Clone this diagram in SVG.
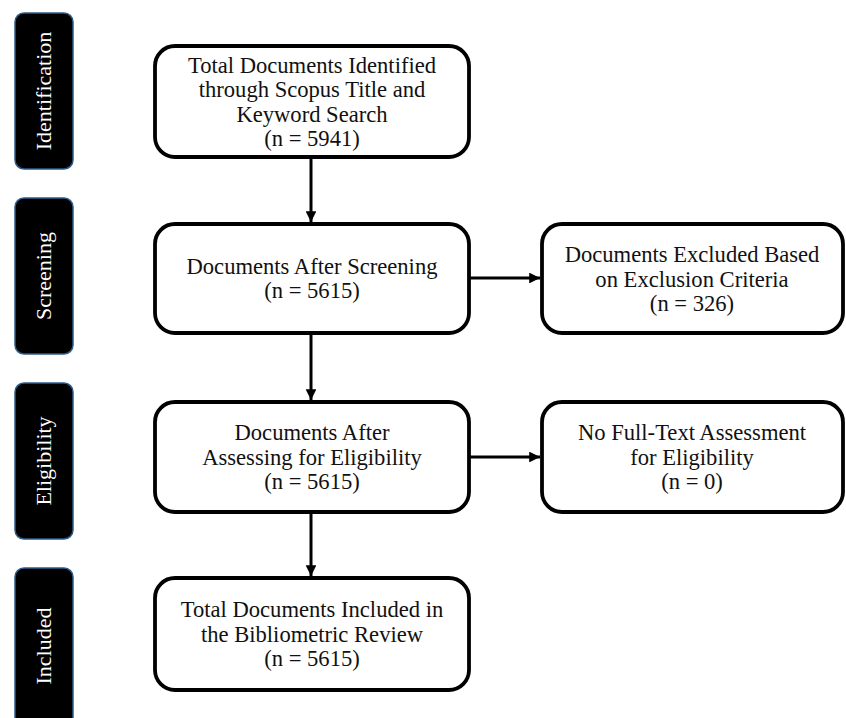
<svg xmlns="http://www.w3.org/2000/svg" width="846" height="718" viewBox="0 0 846 718">
<defs>
<marker id="ah" viewBox="0 0 10 10" refX="10" refY="5" markerWidth="3.6" markerHeight="3.6" orient="auto" markerUnits="strokeWidth">
<path d="M0,0 L10,5 L0,10 z" fill="#000"/>
</marker>
<style>
.stage rect{fill:#000;stroke:#2e5c8a;stroke-width:1.5}
.stage text{fill:#fff;font-family:"Liberation Serif","DejaVu Serif",serif;font-size:22px;text-anchor:middle}
.box rect{fill:#fff;stroke:#000;stroke-width:3.8}
.box text{fill:#111;font-family:"Liberation Serif","DejaVu Serif",serif;font-size:22.6px;text-anchor:middle}
.conn line{stroke:#000;stroke-width:3;marker-end:url(#ah)}
</style>
</defs>
<rect width="846" height="718" fill="#fff"/>
<g id="stage-identification" class="stage"><rect x="15" y="13" width="58" height="156" rx="9"/><text transform="translate(51,91) rotate(-90)">Identification</text></g>
<g id="stage-screening" class="stage"><rect x="15" y="198" width="58" height="156" rx="9"/><text transform="translate(51,276) rotate(-90)">Screening</text></g>
<g id="stage-eligibility" class="stage"><rect x="15" y="383" width="58" height="156" rx="9"/><text transform="translate(51,461) rotate(-90)">Eligibility</text></g>
<g id="stage-included" class="stage"><rect x="15" y="568" width="58" height="160" rx="9"/><text transform="translate(51,646) rotate(-90)">Included</text></g>
<g id="box-identified" class="box"><rect x="155" y="46" width="314" height="111" rx="20"/>
<text x="312" y="73">Total Documents Identified</text><text x="312" y="97">through Scopus Title and</text><text x="312" y="122">Keyword Search</text><text x="312" y="146">(n = 5941)</text></g>
<g id="box-screened" class="box"><rect x="155" y="224" width="314" height="109" rx="20"/>
<text x="312" y="274">Documents After Screening</text><text x="312" y="298">(n = 5615)</text></g>
<g id="box-excluded" class="box"><rect x="542" y="224" width="301" height="109" rx="20"/>
<text x="692" y="262">Documents Excluded Based</text><text x="692" y="287">on Exclusion Criteria</text><text x="692" y="311">(n = 326)</text></g>
<g id="box-eligible" class="box"><rect x="155" y="402" width="314" height="110" rx="20"/>
<text x="312" y="440">Documents After</text><text x="312" y="465">Assessing for Eligibility</text><text x="312" y="489">(n = 5615)</text></g>
<g id="box-nofulltext" class="box"><rect x="542" y="402" width="301" height="110" rx="20"/>
<text x="692" y="440">No Full-Text Assessment</text><text x="692" y="465">for Eligibility</text><text x="692" y="489">(n = 0)</text></g>
<g id="box-included" class="box"><rect x="155" y="578" width="314" height="112" rx="20"/>
<text x="312" y="617">Total Documents Included in</text><text x="312" y="642">the Bibliometric Review</text><text x="312" y="666">(n = 5615)</text></g>
<g id="connectors" class="conn">
<line x1="311" y1="158" x2="311" y2="222"/>
<line x1="311" y1="334" x2="311" y2="400"/>
<line x1="311" y1="513" x2="311" y2="576"/>
<line x1="470" y1="278" x2="540" y2="278"/>
<line x1="470" y1="457" x2="540" y2="457"/>
</g>
</svg>
